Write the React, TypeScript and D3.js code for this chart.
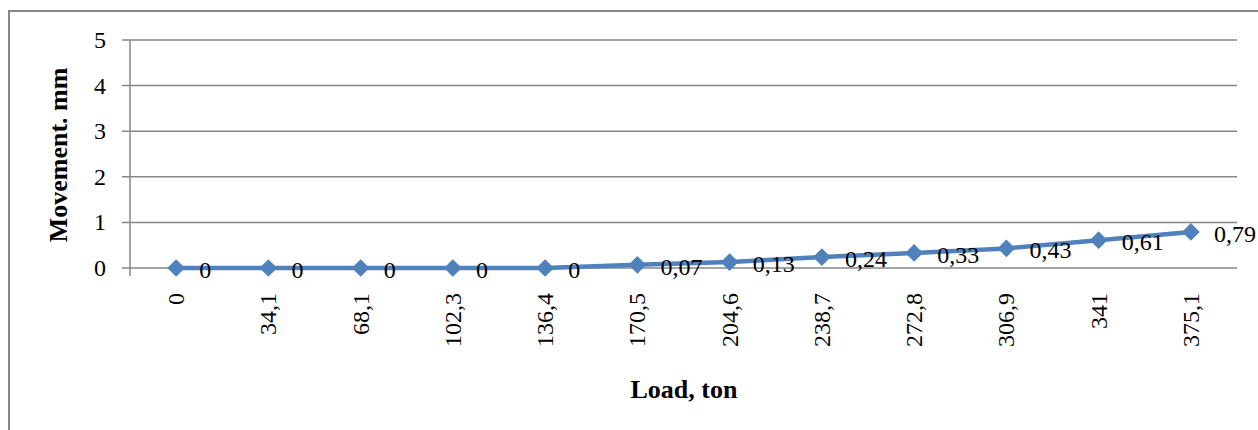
import React from "react";
import * as d3 from "d3";

const categories = ["0", "34,1", "68,1", "102,3", "136,4", "170,5", "204,6", "238,7", "272,8", "306,9", "341", "375,1"];
const values = [0, 0, 0, 0, 0, 0.07, 0.13, 0.24, 0.33, 0.43, 0.61, 0.79];
const valueLabels = ["0", "0", "0", "0", "0", "0,07", "0,13", "0,24", "0,33", "0,43", "0,61", "0,79"];
const yTicks = [0, 1, 2, 3, 4, 5];

const W = 1258;
const H = 430;
const left = 130;
const right = 1237;
const top = 40;
const bottom = 268;
const font = "'Liberation Serif', 'Times New Roman', serif";
const grid = "#868686";
const blue = "#4F81BD";

export default function App() {
  const x = d3.scaleBand<string>().domain(categories).range([left, right]).padding(0);
  const y = d3.scaleLinear().domain([0, 5]).range([bottom, top]);
  const cx = (c: string) => (x(c) as number) + x.bandwidth() / 2;
  const line = d3
    .line<number>()
    .x((_, i) => cx(categories[i]))
    .y((d) => y(d));
  const diamond = d3.symbol().type(d3.symbolDiamond2).size(200)();
  return (
    <svg
      width={W}
      height={H}
      style={{ position: "absolute", left: 0, top: 0, background: "#fff" }}
      fontFamily={font}
    >
      <rect x={9} y={11} width={W + 10} height={H + 10} fill="none" stroke={grid} strokeWidth={2} />
      {yTicks.map((t) => (
        <g key={t}>
          <line x1={122} x2={right} y1={y(t)} y2={y(t)} stroke={grid} strokeWidth={1.5} />
          <text x={106} y={y(t)} dominantBaseline="central" textAnchor="end" fontSize={24}>
            {t}
          </text>
        </g>
      ))}
      <line x1={left} x2={left} y1={top} y2={bottom + 8} stroke={grid} strokeWidth={1.5} />
      {categories.map((c) => (
        <text
          key={c}
          transform={`translate(${cx(c)},${bottom + 25}) rotate(-90)`}
          textAnchor="end"
          dominantBaseline="central"
          fontSize={24}
        >
          {c}
        </text>
      ))}
      <path d={line(values) || ""} fill="none" stroke={blue} strokeWidth={4.5} strokeLinejoin="round" />
      {values.map((v, i) => (
        <path key={i} d={diamond || ""} transform={`translate(${cx(categories[i])},${y(v)})`} fill={blue} />
      ))}
      {values.map((v, i) => (
        <text
          key={"l" + i}
          x={cx(categories[i]) + 23}
          y={y(v) + 2}
          dominantBaseline="central"
          fontSize={24}
        >
          {valueLabels[i]}
        </text>
      ))}
      <text
        transform={`translate(58,155) rotate(-90)`}
        textAnchor="middle"
        dominantBaseline="central"
        fontSize={26}
        fontWeight="bold"
      >
        Movement. mm
      </text>
      <text x={684} y={398} textAnchor="middle" fontSize={26} fontWeight="bold">
        Load, ton
      </text>
    </svg>
  );
}
